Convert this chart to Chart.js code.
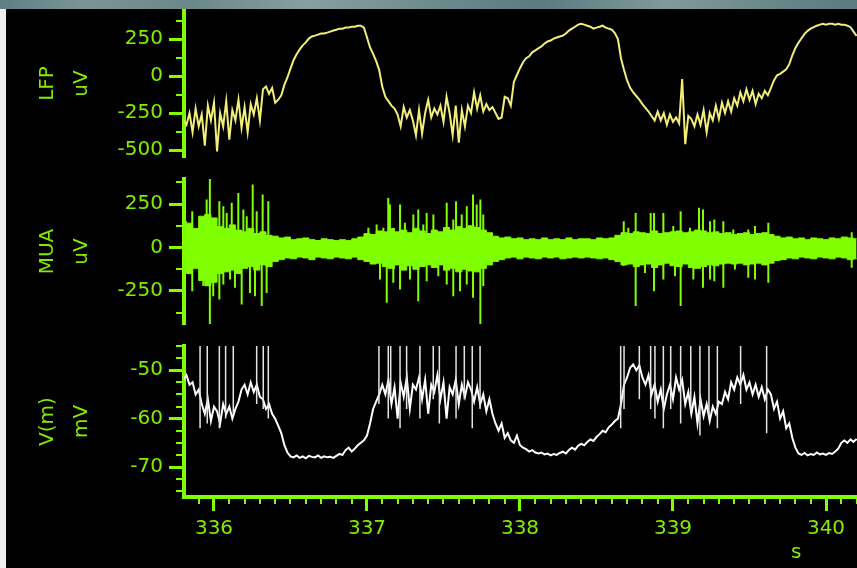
<!DOCTYPE html>
<html>
<head>
<meta charset="utf-8">
<title>LFP / MUA / V(m)</title>
<script src="https://cdn.jsdelivr.net/npm/chart.js@4.4.1/dist/chart.umd.min.js"></script>
<style>
  html, body { margin: 0; padding: 0; background: #000; width: 857px; height: 568px; overflow: hidden; }
  #wrap { position: relative; width: 857px; height: 568px; overflow: hidden; background: #000; }
  #wrap canvas { position: absolute; left: 0; top: -50px; }
  #photoStrip { position: absolute; left: 0; top: 0; width: 857px; height: 9px; z-index: 5;
    background: linear-gradient(90deg, #5f7f83 0%, #7a9597 10%, #6a878a 22%, #86a0a1 36%, #6e8b8e 50%, #5c7b7f 63%, #7f9a9b 78%, #6a878a 90%, #5a7a7e 100%); }
  #edge { position: absolute; left: 0; top: 9px; width: 6px; height: 559px; background: #eef0ef; z-index: 5; }
  #unit { position: absolute; left: 791px; top: 539px; font: 20px 'DejaVu Sans'; color: #80ee00; z-index: 5; }
</style>
</head>
<body>
<div id="wrap">
  <canvas id="lfpChart" width="857" height="668"></canvas>
  <canvas id="muaChart" width="857" height="668"></canvas>
  <canvas id="vmChart" width="857" height="668"></canvas>
  <div id="photoStrip"></div>
  <div id="edge"></div>
  <div id="unit">s</div>
</div>
<script>
// ---- sampling grid (seconds) ----
const T0 = 335.80;
const STEP = 0.02;      // LFP and V(m) samples
const MUA_STEP = 0.04;  // MUA envelope samples

// ---- axis tick labels ----
const secondTicks = [336, 337, 338, 339, 340];
const lfpTicks = [-500, -250, 0, 250];
const lfpMinor = [-375, -125, 125, 375];
const muaTicks = [-250, 0, 250];
const muaMinor = [-375, -125, 125, 375];
const vmTicks = [-70, -60, -50];
const vmMinor = [-75, -72.5, -67.5, -65, -62.5, -57.5, -55, -52.5, -47.5, -45];

// ---- LFP (uV) ----
const lfpValues = [
  -300,-330,-250,-380,-220,-340,-260,-470,-200,-300,
  -180,-510,-250,-340,-170,-430,-230,-300,-160,-350,
  -210,-380,-190,-260,-150,-300,-90,-70,-120,-80,
  -180,-160,-130,-60,-10,50,107,147,180,207,
  227,253,267,273,280,287,287,293,300,307,
  313,320,320,327,327,333,333,340,340,327,
  260,193,150,100,40,-73,-140,-170,-200,-220,
  -260,-340,-210,-280,-230,-300,-400,-230,-390,-250,
  -160,-280,-220,-260,-200,-310,-140,-250,-400,-200,
  -450,-230,-340,-200,-250,-110,-220,-130,-240,-190,
  -230,-210,-250,-290,-280,-140,-150,-200,-40,7,
  53,93,120,133,160,173,187,200,220,233,
  240,253,260,267,273,287,307,320,333,347,
  353,347,340,333,320,327,333,340,327,320,
  313,290,250,120,40,-30,-80,-110,-135,-160,
  -190,-215,-240,-270,-300,-240,-300,-250,-330,-260,
  -310,-280,-320,-20,-460,-270,-290,-340,-260,-330,
  -230,-380,-250,-300,-200,-290,-180,-250,-170,-240,
  -150,-200,-110,-170,-90,-160,-100,-190,-120,-150,
  -100,-130,-80,-30,5,15,30,45,80,140,
  190,225,255,285,305,320,330,340,347,353,
  347,353,353,347,353,347,347,340,330,300,270
];

// ---- MUA envelope (uV) ----
const muaHigh = [
  150,140,110,180,190,170,120,110,130,100,
  90,110,80,90,70,65,55,60,45,50,
  55,45,40,50,45,40,45,40,50,60,
  80,75,95,90,110,90,100,85,110,95,
  80,100,90,115,100,120,110,125,115,100,
  85,65,55,60,50,55,45,50,45,55,
  45,50,45,55,45,50,50,45,55,50,
  55,70,85,80,90,85,80,95,80,85,
  90,95,85,90,100,95,85,90,80,85,
  75,80,85,75,80,85,75,65,55,60,
  50,55,45,55,50,45,55,50,60,55,50
];
const muaLow = [
  -130,-150,-120,-190,-220,-200,-150,-140,-130,-150,
  -120,-110,-130,-100,-110,-80,-70,-60,-65,-55,
  -60,-70,-55,-60,-65,-55,-60,-65,-55,-70,
  -80,-95,-90,-110,-120,-100,-130,-105,-125,-110,
  -100,-115,-100,-130,-120,-140,-125,-135,-140,-120,
  -100,-80,-70,-60,-55,-65,-55,-60,-65,-55,
  -60,-55,-65,-60,-55,-60,-55,-60,-65,-60,
  -70,-80,-100,-95,-110,-100,-95,-115,-100,-90,
  -105,-110,-95,-115,-120,-110,-100,-105,-95,-90,
  -95,-90,-100,-95,-90,-100,-90,-75,-70,-60,
  -65,-55,-60,-65,-55,-60,-65,-55,-60,-70,-65
];

// ---- MUA spikes: time (s), positive and negative excursion (uV) ----
const muaSpikeTime = [
  335.810,335.858,335.930,335.952,335.973,335.995,336.035,336.061,336.083,336.105,336.116,336.137,
  336.159,336.181,336.192,336.214,336.235,336.253,336.268,336.279,336.312,336.318,336.344,336.355,
  337.009,337.063,337.085,337.107,337.129,337.139,337.150,337.172,337.216,337.248,337.281,337.303,
  337.335,337.368,337.390,337.434,337.466,337.521,337.564,337.582,337.608,337.619,337.652,337.693,
  337.717,337.741,337.760,
  338.678,338.708,338.756,338.817,338.854,338.876,338.937,339.002,339.013,339.050,339.111,339.133,
  339.170,339.196,339.242,339.270,339.329,339.394,339.405,339.492,339.536,339.623,340.168
];
const muaSpikeUp = [
  391,209,0,276,400,0,266,237,199,0,257,0,
  314,0,218,180,0,362,0,209,0,305,0,266,
  113,132,0,113,0,285,247,0,247,142,0,190,
  218,132,199,190,0,257,161,266,0,190,237,305,
  247,276,190,
  151,113,199,0,199,199,199,123,0,209,113,0,
  228,218,151,161,151,103,0,103,123,142,88
];
const muaSpikeDown = [
  0,-251,-222,0,-443,-280,-299,-213,0,-184,0,-232,
  0,-328,0,0,-261,0,-280,0,-337,0,-261,0,
  0,0,-184,0,-318,0,0,-203,-241,0,-184,0,
  -309,0,-194,0,-165,-213,-280,0,-251,0,-213,-289,
  0,-443,-222,
  -107,0,-337,-146,0,-251,-184,0,-165,-337,0,-184,
  0,-232,-184,-194,-232,0,-126,-174,-184,-203,-117
];

// ---- V(m) (mV) ----
const vmValues = [
  -52,-51,-53,-52.5,-55,-54,-57,-59,-56,-60.5,
  -57.5,-58.5,-61,-57,-59,-57.5,-60,-58,-56.5,-54,
  -53,-55,-52.5,-54.5,-53,-55.5,-56,-58,-57,-59,
  -60,-61.5,-63,-65.5,-67,-67.8,-68,-67.6,-68.1,-67.8,
  -68.2,-67.7,-67.9,-68,-67.6,-68.1,-67.8,-68,-67.9,-68.1,
  -67.7,-67.3,-67.5,-66.5,-66,-66.8,-66.2,-65.5,-65,-64.5,
  -63.5,-61,-58,-56.5,-55,-53,-55,-52,-57,-53.5,
  -60,-52.5,-55.5,-51.5,-58,-53,-54,-51.5,-56,-52,
  -59,-53,-54.5,-51,-56,-52.5,-60,-53.5,-55,-52,
  -57,-53,-55.5,-52.5,-54,-56.5,-53.5,-57,-55,-58.5,
  -56,-59,-61,-62.5,-61,-64,-63,-64.5,-65,-63.5,
  -65.5,-66,-66.3,-66.8,-66.5,-67,-67.2,-67,-67.4,-67.2,
  -67.6,-67.3,-67.5,-67.1,-66.8,-67.2,-66.5,-66,-66.4,-65.6,
  -65.2,-65.5,-64.8,-64.3,-64.6,-63.8,-63.2,-62.5,-62.8,-61.8,
  -61.2,-60.5,-60,-57,-53,-51.5,-49.5,-48.8,-50,-49,
  -51.5,-53,-51,-55,-53,-56.5,-54,-58,-55,-53,
  -56,-51.5,-54,-52,-57,-54.5,-59,-55.5,-61,-56,
  -59.5,-57,-60.5,-57.5,-59,-56.5,-57,-54.5,-56,-52.5,
  -54,-51.5,-53,-51,-54,-52.5,-55,-53,-55.5,-53.5,
  -56,-54,-55,-58,-56.5,-60,-58.5,-62,-61,-64,
  -66,-67.2,-67.5,-67.1,-67.6,-67.3,-67.5,-67,-67.4,-67.2,
  -67.5,-67.1,-67.3,-66.8,-66.2,-65,-64.5,-65,-64.3,-64.8,-64.2
];

// ---- V(m) action potentials: time (s) and foot (mV); peaks run off the top of the axis ----
const vmSpikeTime = [
  335.909,335.956,336.035,336.076,336.126,336.279,336.322,336.355,
  337.078,337.139,337.155,337.216,337.259,337.346,337.433,337.473,337.582,337.636,337.688,337.739,
  338.658,338.680,338.780,338.854,338.882,338.937,338.985,339.050,339.116,339.176,339.235,339.290,339.442,339.612
];
const vmSpikeFoot = [
  -62,-61,-62,-60,-59,-57,-58,-60,
  -57,-60,-55,-62,-58,-60,-56,-61,-60,-56,-62,-58,
  -62,-58,-56,-58,-60,-62,-58,-61,-59,-63.5,-60,-62,-57,-63
];
const vmSpikePeak = -42;

// ---- styling ----
const GREEN = '#80ff00';
const LABEL = '#80ee00';
const FONT = "'DejaVu Sans'";
const X_MIN = 335.804, X_MAX = 340.2026;
const CANVAS_H = 668, SHIFT = 50;   // canvases start 50px above the page

const sampled = (values, step) => values.map((v, i) => ({ x: T0 + i * step, y: v }));
const segments = (times, lo, hi) => {
  const pts = [];
  times.forEach((t, i) => {
    const a = typeof lo === 'number' ? lo : lo[i];
    const b = typeof hi === 'number' ? hi : hi[i];
    pts.push({ x: t, y: a }, { x: t, y: b }, { x: t, y: null });
  });
  return pts;
};

// short ticks between the labelled ones
const minorTickPlugin = {
  id: 'minorTicks',
  afterDraw(chart, args, opts) {
    const ctx = chart.ctx;
    ctx.save();
    ctx.strokeStyle = GREEN;
    ctx.lineWidth = 2;
    for (const m of (opts.marks || [])) {
      const s = chart.scales[m.axis];
      for (const v of m.values) {
        const p = Math.round(s.getPixelForValue(v));
        ctx.beginPath();
        if (s.isHorizontal()) { ctx.moveTo(p, s.top); ctx.lineTo(p, s.top + m.len); }
        else { ctx.moveTo(s.right - m.len, p); ctx.lineTo(s.right, p); }
        ctx.stroke();
      }
    }
    ctx.restore();
  }
};

function yAxis(min, max, ticks, title) {
  return {
    type: 'linear', position: 'left', min, max,
    afterBuildTicks: s => { s.ticks = ticks.map(v => ({ value: v })); },
    afterFit: s => { s.width = 184; },
    border: { display: true, color: GREEN, width: 4 },
    grid: { display: true, drawOnChartArea: false, drawTicks: true, tickLength: 15, tickWidth: 3, tickColor: GREEN, color: GREEN },
    ticks: { color: LABEL, font: { family: FONT, size: 20 }, padding: 6, autoSkip: false, callback: v => String(v) },
    title: { display: true, text: title, color: LABEL, font: { family: FONT, size: 20, lineHeight: 1.7 }, padding: { top: 31, bottom: 0 } }
  };
}

function xAxis(shown) {
  if (!shown) return { type: 'linear', min: X_MIN, max: X_MAX, display: false };
  return {
    type: 'linear', position: 'bottom', min: X_MIN, max: X_MAX,
    afterBuildTicks: s => { s.ticks = secondTicks.map(v => ({ value: v })); },
    afterFit: s => { s.height = 40; },
    border: { display: true, color: GREEN, width: 4 },
    grid: { display: true, drawOnChartArea: false, drawTicks: true, tickLength: 14, tickWidth: 3, tickColor: GREEN, color: GREEN },
    ticks: { color: LABEL, font: { family: FONT, size: 20 }, padding: 6, maxRotation: 0, autoSkip: false, callback: v => String(v) }
  };
}

function panel(id, top, bottom, withX, datasets, y, marks) {
  const padTop = top + SHIFT;
  const padBottom = CANVAS_H - (bottom + SHIFT) - (withX ? 40 : 0);
  return new Chart(document.getElementById(id), {
    type: 'line',
    data: { datasets },
    options: {
      responsive: false, animation: false, devicePixelRatio: 1, events: [],
      layout: { padding: { left: 0, right: 0, top: padTop, bottom: padBottom } },
      elements: { point: { radius: 0 }, line: { tension: 0 } },
      plugins: { legend: { display: false }, tooltip: { enabled: false }, minorTicks: { marks } },
      scales: { x: xAxis(withX), y }
    },
    plugins: [minorTickPlugin]
  });
}

const secondMinor = [];
for (let k = 3359; k <= 3402; k++) if (k % 10 !== 0) secondMinor.push(k / 10);

// LFP
panel('lfpChart', 10, 157, false, [
  { data: sampled(lfpValues, STEP), borderColor: '#f2ee78', borderWidth: 2, clip: 0 }
], yAxis(-547, 446, lfpTicks, ['LFP', 'uV']), [{ axis: 'y', values: lfpMinor, len: 8 }]);

// MUA
panel('muaChart', 179, 324, false, [
  { data: sampled(muaHigh, MUA_STEP), borderColor: GREEN, backgroundColor: GREEN, borderWidth: 1, stepped: 'middle', fill: false, clip: 0 },
  { data: sampled(muaLow, MUA_STEP), borderColor: GREEN, backgroundColor: GREEN, borderWidth: 1, stepped: 'middle', fill: '-1', clip: 0 },
  { data: segments(muaSpikeTime, muaSpikeDown, muaSpikeUp), borderColor: GREEN, borderWidth: 2, spanGaps: false, clip: 0 }
], yAxis(-440, 394, muaTicks, ['MUA', 'uV']), [{ axis: 'y', values: muaMinor, len: 8 }]);

// V(m)
panel('vmChart', 346, 497, true, [
  { data: segments(vmSpikeTime, vmSpikeFoot, vmSpikePeak), borderColor: '#e4e4e4', borderWidth: 1.5, spanGaps: false, clip: 0 },
  { data: sampled(vmValues, STEP), borderColor: '#ffffff', borderWidth: 2, clip: 0 }
], yAxis(-76.19, -45, vmTicks, ['V(m)', 'mV']), [
  { axis: 'y', values: vmMinor, len: 8 },
  { axis: 'x', values: secondMinor, len: 7 }
]);
</script>
</body>
</html>
